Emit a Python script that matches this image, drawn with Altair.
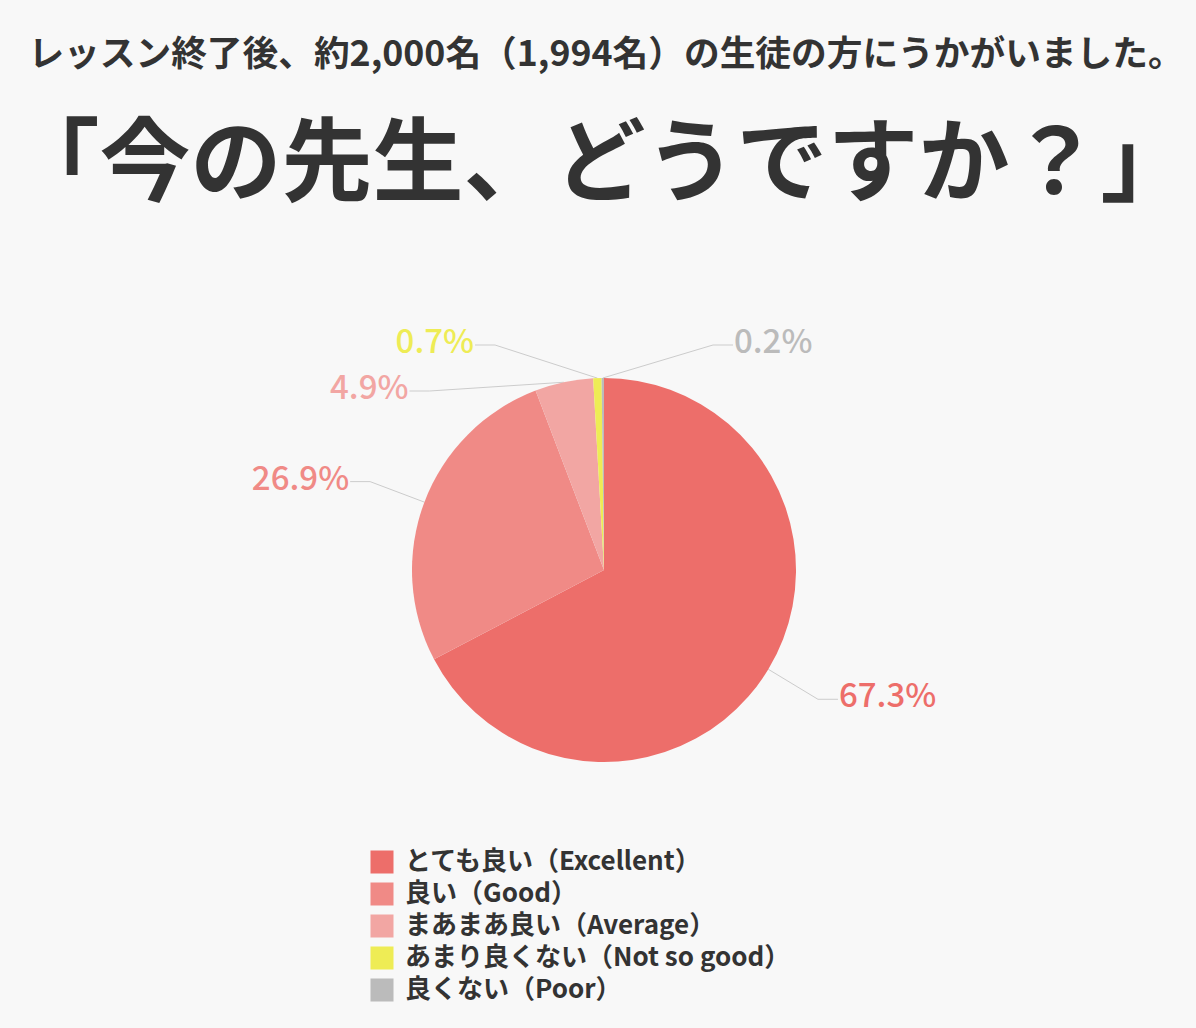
import math
import altair as alt
import pandas as pd

# ---------------- data ----------------
subtitle_text = "レッスン終了後、約2,000名（1,994名）の生徒の方にうかがいました。"
title_text = "「今の先生、どうですか？」"
categories = [
    "とても良い（Excellent）",
    "良い（Good）",
    "まあまあ良い（Average）",
    "あまり良くない（Not so good）",
    "良くない（Poor）",
]
values = [67.3, 26.9, 4.9, 0.7, 0.2]
value_labels = ["67.3%", "26.9%", "4.9%", "0.7%", "0.2%"]
palette = ["#ED6E6A", "#F08A86", "#F2A6A3", "#EEEC55", "#BBBBBB"]

# ---------------- layout constants ----------------
W, H = 1196, 1028
CX, CY = 604, 570          # pie centre
R = 192                    # pie radius
R_ELBOW = 250              # radius on which connector elbows sit
SEG = 20                   # horizontal connector segment
TOP_LIMIT = 345            # highest label line
GAP = 46                   # minimal vertical distance between labels

# ---- label layout computed from the values (like the pie library does) ----
total = sum(values)
cum = 0.0
info = []
for i, v in enumerate(values):
    a0 = cum / total * 2 * math.pi
    cum += v
    a1 = cum / total * 2 * math.pi
    mid = (a0 + a1) / 2
    side = 1 if (mid <= math.pi or mid > 2 * math.pi - 0.02) else -1
    info.append({"i": i, "mid": mid, "side": side,
                 "ny": CY - R_ELBOW * math.cos(mid)})

for s in (1, -1):
    prev = None
    for d in sorted([d for d in info if d["side"] == s], key=lambda d: d["ny"]):
        y = max(d["ny"], TOP_LIMIT)
        if prev is not None:
            y = max(y, prev + GAP)
        d["y"] = y
        prev = y

label_rows, line_rows = [], []
for d in info:
    i, s, mid, y = d["i"], d["side"], d["mid"], d["y"]
    ex = CX + s * math.sqrt(max(R_ELBOW ** 2 - (y - CY) ** 2, 0))
    endx = ex + s * SEG
    sx = CX + R * math.sin(mid)
    sy = CY - R * math.cos(mid)
    for k, (px, py) in enumerate([(sx, sy), (ex, y), (endx, y)]):
        line_rows.append({"key": categories[i], "seq": k, "px": px, "py": py})
    label_rows.append({"key": categories[i], "text": value_labels[i],
                       "lx": endx + s * 1, "ly": y, "col": palette[i],
                       "align": "left" if s > 0 else "right"})

pie_df = pd.DataFrame({"category": categories, "value": values,
                       "idx": list(range(len(values)))})
line_df = pd.DataFrame(line_rows)
lab_df = pd.DataFrame(label_rows)

xs = alt.Scale(domain=[0, W], range=[0, W])
ys = alt.Scale(domain=[0, H], range=[0, H])

color = alt.Color(
    "category:N",
    scale=alt.Scale(domain=categories, range=palette),
    sort=categories,
    legend=alt.Legend(
        title=None, orient="none", legendX=369, legendY=849,
        symbolType="square", symbolSize=529, symbolStrokeWidth=0,
        symbolOpacity=1,
        labelFont="Noto Sans CJK JP", labelFontSize=26,
        labelFontWeight="bold", labelColor="#333333",
        labelOffset=10, rowPadding=6, padding=0, labelLimit=0,
    ),
)

pie = alt.Chart(pie_df).mark_arc(outerRadius=R, stroke=None).encode(
    theta=alt.Theta("value:Q", stack=True),
    order=alt.Order("idx:Q"),
    color=color,
    x=alt.value(CX),
    y=alt.value(CY),
)

connectors = alt.Chart(line_df).mark_line(color="#cccccc", strokeWidth=1).encode(
    x=alt.X("px:Q", scale=xs, axis=None),
    y=alt.Y("py:Q", scale=ys, axis=None),
    detail="key:N",
    order="seq:Q",
)

def label_layer(align):
    return alt.Chart(lab_df[lab_df["align"] == align]).mark_text(
        align=align, baseline="alphabetic", dy=8,
        font="Noto Sans CJK JP", fontSize=33, fontWeight=500,
    ).encode(
        x=alt.X("lx:Q", scale=xs, axis=None),
        y=alt.Y("ly:Q", scale=ys, axis=None),
        text="text:N",
        color=alt.Color("col:N", scale=None),
    )

subtitle = alt.Chart(pd.DataFrame({"t": [subtitle_text]})).mark_text(
    font="Noto Sans CJK JP", fontSize=35.7, fontWeight="bold",
    color="#333333", align="center", baseline="middle",
).encode(text="t:N", x=alt.value(606), y=alt.value(55))

title = alt.Chart(pd.DataFrame({"t": [title_text]})).mark_text(
    font="Noto Sans CJK JP", fontSize=91, fontWeight="bold",
    color="#333333", align="center", baseline="middle",
).encode(text="t:N", x=alt.value(600), y=alt.value(167))

chart = alt.layer(
    connectors, pie, label_layer("left"), label_layer("right"), subtitle, title
).properties(
    width=W, height=H, background="#f8f8f8", padding=0,
    autosize=alt.AutoSizeParams(type="none"),
).configure_view(stroke=None)

chart.save("out.html", embed_options={"renderer": "svg", "actions": False})
